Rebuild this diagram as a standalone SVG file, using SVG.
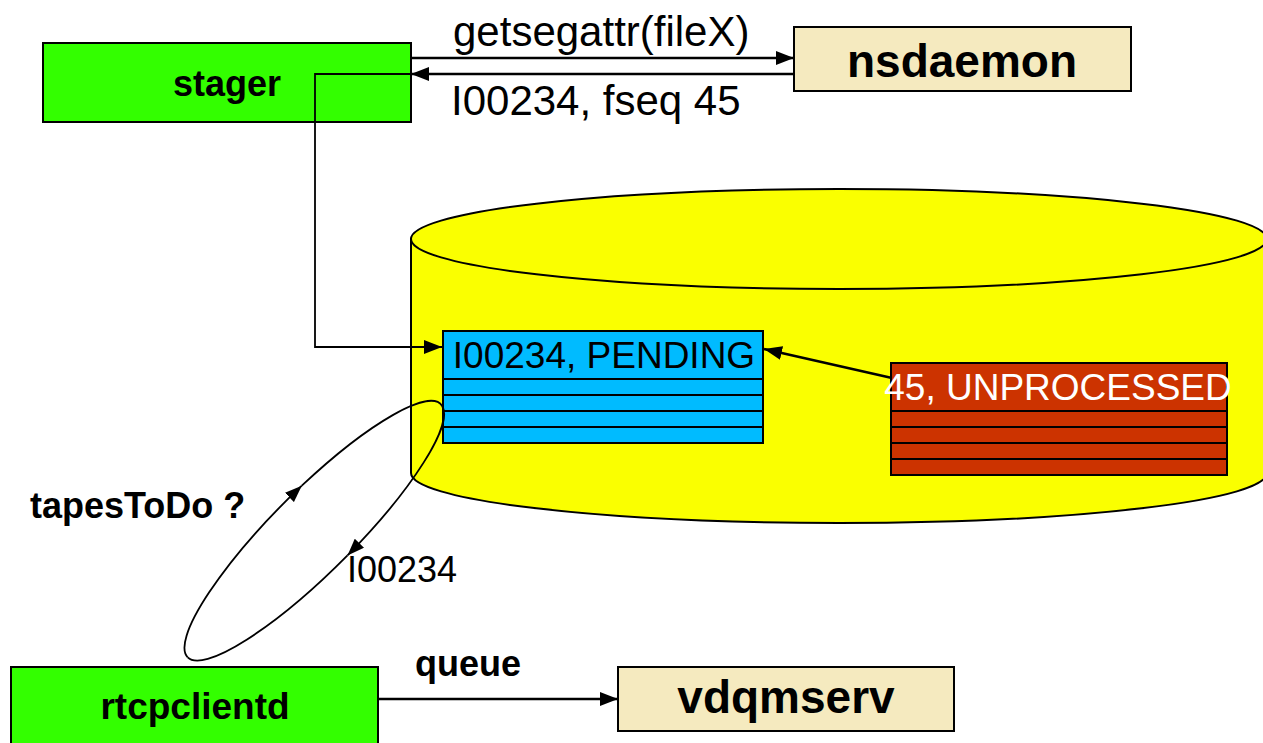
<svg xmlns="http://www.w3.org/2000/svg" width="1263" height="743" viewBox="0 0 1263 743">
  <style>
    .box { stroke: #000; stroke-width: 2; }
    .proc { fill: #33FF00; }
    .srv { fill: #F5EABF; }
    .bold { font-family: "Liberation Sans", Arial, sans-serif; font-weight: bold; fill: #000; }
    .plain { font-family: "Liberation Sans", Arial, sans-serif; fill: #000; }
    .row { stroke: #000; stroke-width: 2; }
    .link { fill: none; stroke: #000; stroke-width: 2.5; }
    .thin { fill: none; stroke: #000; stroke-width: 1.8; }
  </style>
  <defs>
    <marker id="arrow" viewBox="0 0 10 10" refX="10" refY="5" markerUnits="userSpaceOnUse" markerWidth="18" markerHeight="14" orient="auto" preserveAspectRatio="none">
      <path d="M0,0 L10,5 L0,10 z" fill="#000"/>
    </marker>
    <marker id="arrowSmall" viewBox="0 0 10 10" refX="10" refY="5" markerUnits="userSpaceOnUse" markerWidth="17" markerHeight="13" orient="auto" preserveAspectRatio="none">
      <path d="M0,0 L10,5 L0,10 z" fill="#000"/>
    </marker>
  </defs>

  <!-- database cylinder -->
  <g id="database">
    <path d="M411,239 V473 A428,50 0 0 0 1267,473 V239 Z" fill="#FAFF00" stroke="#000" stroke-width="2"/>
    <ellipse cx="839" cy="239" rx="428" ry="50" fill="#FAFF00" stroke="#000" stroke-width="2"/>
  </g>

  <!-- tape table -->
  <g id="tapes">
    <rect x="443" y="331" width="320" height="112" fill="#00BBFF" class="box"/>
    <line x1="443" y1="379" x2="763" y2="379" class="row"/>
    <line x1="443" y1="395" x2="763" y2="395" class="row"/>
    <line x1="443" y1="411" x2="763" y2="411" class="row"/>
    <line x1="443" y1="427" x2="763" y2="427" class="row"/>
    <text x="604" y="368" font-size="37" text-anchor="middle" class="plain">I00234, PENDING</text>
  </g>

  <!-- segment table -->
  <g id="segments">
    <rect x="891" y="363" width="336" height="112" fill="#CC3300" class="box"/>
    <line x1="891" y1="411" x2="1227" y2="411" class="row"/>
    <line x1="891" y1="427" x2="1227" y2="427" class="row"/>
    <line x1="891" y1="443" x2="1227" y2="443" class="row"/>
    <line x1="891" y1="459" x2="1227" y2="459" class="row"/>
    <text x="1058" y="400" font-size="37" text-anchor="middle" font-family="Liberation Sans, Arial, sans-serif" fill="#FFFFFF">45, UNPROCESSED</text>
  </g>

  <g id="stager">
    <rect x="43" y="43" width="368" height="79" class="box proc"/>
    <text x="227" y="96" font-size="36" text-anchor="middle" class="bold">stager</text>
  </g>

  <g id="nsdaemon">
    <rect x="794" y="27" width="337" height="64" class="box srv"/>
    <text x="962" y="77" font-size="46" text-anchor="middle" class="bold">nsdaemon</text>
  </g>

  <g id="rtcpclientd">
    <rect x="11" y="667" width="367" height="90" class="box proc"/>
    <text x="195" y="719" font-size="37" text-anchor="middle" class="bold">rtcpclientd</text>
  </g>

  <g id="vdqmserv">
    <rect x="618" y="667" width="336" height="64" class="box srv"/>
    <text x="786" y="713" font-size="46" text-anchor="middle" class="bold">vdqmserv</text>
  </g>

  <!-- connectors -->
  <g id="connectors">
    <line x1="411" y1="58" x2="794" y2="58" class="link" marker-end="url(#arrow)"/>
    <line x1="794" y1="74" x2="411" y2="74" class="link" marker-end="url(#arrow)"/>
    <polyline points="411,74 315,74 315,347 442,347" class="thin" marker-end="url(#arrow)"/>
    <line x1="892" y1="378" x2="764" y2="349" class="link" marker-end="url(#arrow)"/>
    <line x1="378" y1="699" x2="618" y2="699" class="link" marker-end="url(#arrow)"/>
    <!-- polling loop between rtcpclientd and the tape table -->
    <path d="M187.7,657.3 A180,41 -45 0 1 301.8,485.7" class="thin" marker-end="url(#arrowSmall)"/>
    <path d="M301.8,485.7 A180,41 -45 0 1 347.5,555.4" class="thin" marker-end="url(#arrowSmall)"/>
    <path d="M347.5,555.4 A180,41 -45 0 1 187.7,657.3" class="thin"/>
  </g>

  <!-- labels -->
  <g id="labels">
    <text x="453" y="46" font-size="42" class="plain">getsegattr(fileX)</text>
    <text x="451" y="115" font-size="42" class="plain">I00234, fseq 45</text>
    <text x="30" y="518" font-size="36" class="bold">tapesToDo ?</text>
    <text x="347" y="582" font-size="36" class="plain">I00234</text>
    <text x="415" y="676" font-size="36" class="bold">queue</text>
  </g>
</svg>
